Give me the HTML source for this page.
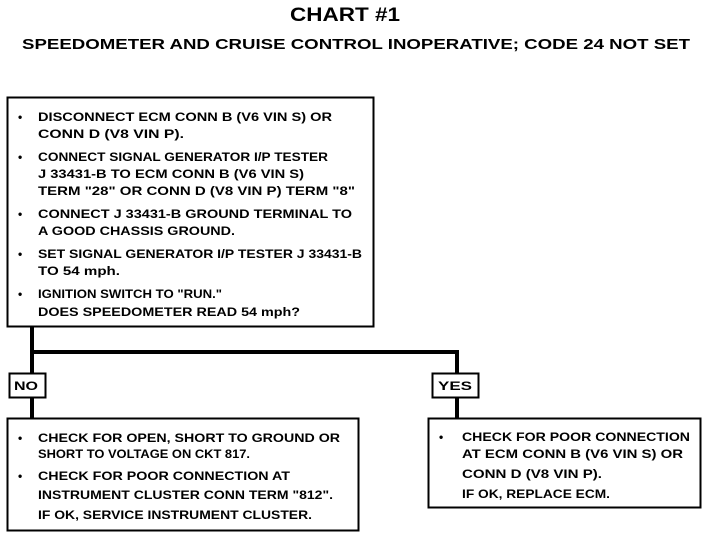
<!DOCTYPE html>
<html><head><meta charset="utf-8"><style>
html,body{margin:0;padding:0;background:#fff;width:720px;height:538px;overflow:hidden}
svg{display:block}
text{font-family:"Liberation Sans",sans-serif;font-weight:bold;fill:#000}
</style></head><body>
<svg width="720" height="538" viewBox="0 0 720 538" xmlns="http://www.w3.org/2000/svg">
<text x="290" y="21" font-size="19" textLength="110" lengthAdjust="spacingAndGlyphs">CHART #1</text>
<text x="22" y="49" font-size="15" textLength="668" lengthAdjust="spacingAndGlyphs">SPEEDOMETER AND CRUISE CONTROL INOPERATIVE; CODE 24 NOT SET</text>

<g fill="none" stroke="#000">
<rect x="7.5" y="97.5" width="366" height="229" stroke-width="2"/>
<rect x="9.5" y="373.5" width="36" height="24" stroke-width="2"/>
<rect x="432.5" y="373.5" width="46" height="24" stroke-width="2"/>
<rect x="7.5" y="418.5" width="351" height="112" stroke-width="2"/>
<rect x="428.5" y="418.5" width="272" height="89" stroke-width="2"/>
<path d="M32 327 V373 M32 352 H457 V373 M32 397 V418 M457 397 V418" stroke-width="4"/>
</g>

<g font-size="12">
<text x="18" y="121">•</text><text x="38" y="121" textLength="294" lengthAdjust="spacingAndGlyphs">DISCONNECT ECM CONN B  (V6  VIN S) OR</text>
<text x="38" y="138" textLength="146" lengthAdjust="spacingAndGlyphs">CONN D  (V8  VIN P).</text>
<text x="18" y="161">•</text><text x="38" y="161" textLength="290" lengthAdjust="spacingAndGlyphs">CONNECT SIGNAL GENERATOR I/P TESTER</text>
<text x="38" y="178" textLength="266" lengthAdjust="spacingAndGlyphs">J 33431-B TO ECM CONN B  (V6  VIN S)</text>
<text x="38" y="195" textLength="317" lengthAdjust="spacingAndGlyphs">TERM "28" OR CONN D  (V8  VIN P) TERM "8"</text>
<text x="18" y="218">•</text><text x="38" y="218" textLength="314" lengthAdjust="spacingAndGlyphs">CONNECT J 33431-B GROUND TERMINAL TO</text>
<text x="38" y="235" textLength="197" lengthAdjust="spacingAndGlyphs">A GOOD CHASSIS GROUND.</text>
<text x="18" y="258">•</text><text x="38" y="258" textLength="324" lengthAdjust="spacingAndGlyphs">SET SIGNAL GENERATOR I/P TESTER J 33431-B</text>
<text x="38" y="275" textLength="82" lengthAdjust="spacingAndGlyphs">TO 54 mph.</text>
<text x="18" y="298">•</text><text x="38" y="298" textLength="184" lengthAdjust="spacingAndGlyphs">IGNITION SWITCH TO "RUN."</text>
<text x="38" y="316" textLength="262" lengthAdjust="spacingAndGlyphs">DOES SPEEDOMETER READ 54 mph?</text>

<text x="14" y="390" textLength="24" lengthAdjust="spacingAndGlyphs">NO</text>
<text x="438" y="390" textLength="34" lengthAdjust="spacingAndGlyphs">YES</text>

<text x="18" y="442">•</text><text x="38" y="442" textLength="302" lengthAdjust="spacingAndGlyphs">CHECK FOR OPEN, SHORT TO GROUND OR</text>
<text x="38" y="458" textLength="212" lengthAdjust="spacingAndGlyphs">SHORT TO VOLTAGE ON CKT 817.</text>
<text x="18" y="480">•</text><text x="38" y="480" textLength="252" lengthAdjust="spacingAndGlyphs">CHECK FOR POOR CONNECTION AT</text>
<text x="38" y="499" textLength="295" lengthAdjust="spacingAndGlyphs">INSTRUMENT CLUSTER CONN TERM "812".</text>
<text x="38" y="519" textLength="274" lengthAdjust="spacingAndGlyphs">IF OK, SERVICE INSTRUMENT CLUSTER.</text>

<text x="439" y="441">•</text><text x="462" y="441" textLength="228" lengthAdjust="spacingAndGlyphs">CHECK FOR POOR CONNECTION</text>
<text x="462" y="458" textLength="221" lengthAdjust="spacingAndGlyphs">AT ECM CONN B  (V6  VIN S) OR</text>
<text x="462" y="478" textLength="140" lengthAdjust="spacingAndGlyphs">CONN D  (V8  VIN P).</text>
<text x="462" y="498" textLength="148" lengthAdjust="spacingAndGlyphs">IF OK, REPLACE ECM.</text>
</g>
</svg>
</body></html>
